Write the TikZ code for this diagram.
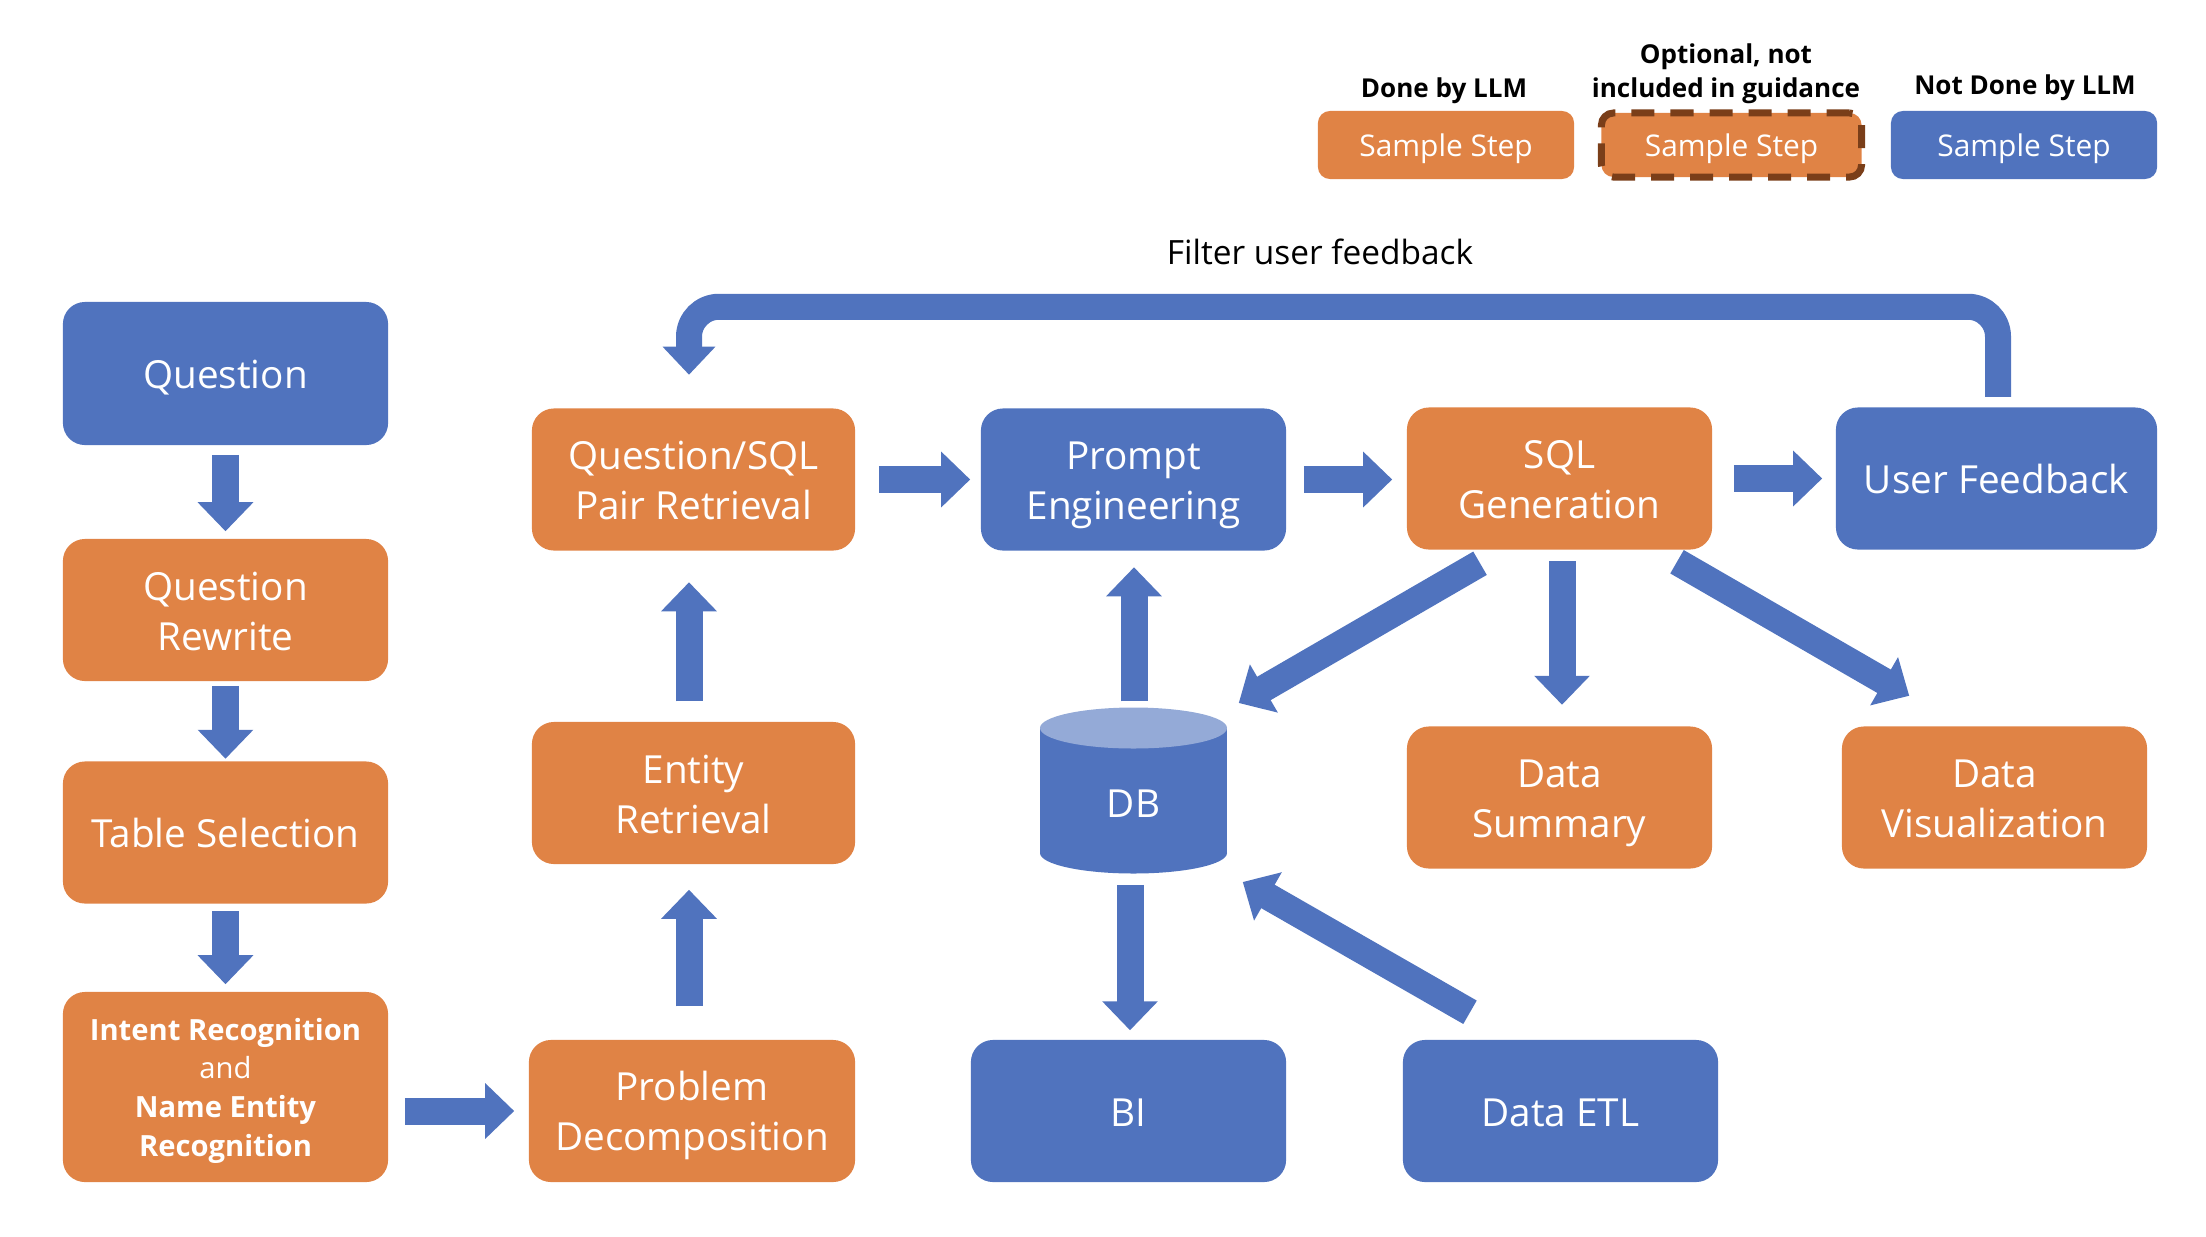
\documentclass[tikz,border=0pt]{standalone}
\usepackage{fontspec}
\setmainfont{Open Sans}
\usetikzlibrary{arrows.meta,calc}

\definecolor{org}{RGB}{224,131,69}
\definecolor{blu}{RGB}{80,115,190}
\definecolor{dbtop}{RGB}{148,170,215}
\definecolor{brn}{RGB}{122,62,25}

\newcommand{\mainfs}{\fontsize{11}{14.2}\selectfont}
\newcommand{\legfs}{\fontsize{8.5}{10.5}\selectfont}
\newcommand{\titlefs}{\fontsize{7.4}{9.7}\selectfont\bfseries}
\newcommand{\intentfs}{\fontsize{8.3}{11}\selectfont}
% invisible strut: lines are centred on their cap height, whatever their glyphs
\newcommand{\cs}{\rule[-0.22em]{0pt}{1.23em}}

\tikzset{
  stepbox/.style={rounded corners=0.22cm, inner sep=0pt, text=white, align=center,
    font=\mainfs, minimum height=1.42cm},
  llm/.style={stepbox, fill=org},
  tool/.style={stepbox, fill=blu},
  legbox/.style={rounded corners=0.12cm, inner sep=0pt, text=white, align=center,
    font=\legfs, minimum height=0.68cm},
  legtitle/.style={inner sep=0pt, align=center, font=\titlefs},
  blk/.style={draw=blu, line width=2.7mm, -{Triangle[width=5.4mm,length=2.9mm]}},
}

\begin{document}
\begin{tikzpicture}[x=0.01cm,y=-0.01cm]
\useasboundingbox (0,0) rectangle (2206,1236);

% legend
\node[legtitle] (t1) at (1444,91) {Done by LLM};
\node[legtitle] (t2) at (1726,74) {Optional, not\\included in guidance};
\node[legtitle] (t3) at (2025,88) {Not Done by LLM};
\node[legbox, fill=org, minimum width=2.56cm] (lg1) at (1446,145) {\cs Sample Step};
\node[legbox, fill=org, draw=brn, line width=0.7mm, dash pattern=on 2.3mm off 1.6mm,
      minimum width=2.6cm, minimum height=0.64cm] (lg2) at (1731.5,145) {\cs Sample Step};
\node[legbox, fill=blu, minimum width=2.66cm] (lg3) at (2024,145) {\cs Sample Step};

\node[inner sep=0pt, font=\fontsize{9.5}{11}\selectfont] (fb) at (1320,252) {Filter user feedback};

% left column
\node[tool, minimum width=3.25cm, minimum height=1.43cm] (q) at (225.5,373.5) {\cs Question};
\node[llm, minimum width=3.25cm] (qr) at (225.5,610) {\cs Question\\\cs Rewrite};
\node[llm, minimum width=3.25cm] (ts) at (225.5,832.5) {\cs Table Selection};
\node[llm, minimum width=3.25cm, minimum height=1.90cm, font=\intentfs] (ir) at (225.5,1087)
  {\cs\textbf{Intent Recognition}\\and\\\textbf{Name Entity}\\\cs\textbf{Recognition}};

% retrieval column
\node[llm, minimum width=3.26cm] (pd) at (692,1111) {\cs Problem\\\cs Decomposition};
\node[llm, minimum width=3.23cm] (er) at (693.5,793) {\cs Entity\\\cs Retrieval};
\node[llm, minimum width=3.23cm] (qs) at (693.5,479.5) {\cs Question/SQL\\\cs Pair Retrieval};

% generation row
\node[tool, minimum width=3.05cm] (pe) at (1133.5,479.5) {\cs Prompt\\\cs Engineering};
\node[llm, minimum width=3.05cm] (sql) at (1559.5,478.5) {\cs SQL\\\cs Generation};
\node[tool, minimum width=3.21cm] (uf) at (1996.5,478.5) {\cs User Feedback};

% outputs
\node[llm, minimum width=3.05cm] (ds) at (1559.5,797.5) {\cs Data\\\cs Summary};
\node[llm, minimum width=3.05cm] (dv) at (1994.5,797.5) {\cs Data\\\cs Visualization};
\node[tool, minimum width=3.15cm] (bi) at (1128.5,1111) {\cs BI};
\node[tool, minimum width=3.15cm] (etl) at (1560.5,1111) {\cs Data ETL};

% database cylinder
\fill[blu] (1040,728) rectangle (1227,853);
\fill[blu] (1133.5,853) ellipse [x radius=93.5, y radius=20.5];
\fill[dbtop] (1133.5,728) ellipse [x radius=93.5, y radius=20.5];
\node[minimum width=1.87cm, minimum height=1.66cm, inner sep=0pt] (db) at (1133.5,791) {};
\node[inner sep=0pt, text=white, font=\mainfs] (dbl) at (1133.5,804) {DB};

% pipeline arrows
\draw[blk] ($(q.south)+(0,9)$) -- ($(qr.north)+(0,-7)$);
\draw[blk] ($(qr.south)+(0,4)$) -- ($(ts.north)+(0,-2)$);
\draw[blk] ($(ts.south)+(0,7)$) -- ($(ir.north)+(0,-7)$);
\draw[blk] ($(ir.east|-pd.west)+(16,0)$) -- ($(pd.west)+(-14,0)$);
\draw[blk] ($(pd.north)+(-3,-33)$) -- ($(er.south)+(-4.5,25)$);
\draw[blk] ($(er.north)+(-4.5,-20)$) -- ($(qs.south)+(-4.5,31)$);
\draw[blk] ($(qs.east)+(23,0)$) -- ($(pe.west)+(-10,0)$);
\draw[blk] ($(pe.east)+(17,0)$) -- ($(sql.west)+(-14,1)$);
\draw[blk] ($(sql.east)+(21,0)$) -- ($(uf.west)+(-13,0)$);
\draw[blk] ($(db.north)+(0.5,-6)$) -- ($(pe.south)+(0.5,16)$);
\draw[blk] ($(sql.south)+(2.5,11)$) -- ($(ds.north)+(2.5,-21)$);
\draw[blk] ($(db.south)+(-3.5,10)$) -- ($(bi.north)+(1.5,-9)$);
\draw[blk] ($(sql.south)+(-79.5,13)$) -- ($(db.east)+(11,-88)$);
\draw[blk] ($(sql.south)+(117.5,11.5)$) -- ($(dv.north west)+(68,-30)$);
\draw[blk] ($(etl.north)+(-90.5,-27)$) -- ($(db.east)+(15,91)$);

% feedback loop
\draw[blk, line width=2.6mm, -{Triangle[width=5.1mm,length=2.8mm]}, rounded corners=0.3cm]
  ($(uf.north)+(1.5,-10)$) -- ++(0,-90) -| ($(qs.north)+(-4.5,-33)$);
\end{tikzpicture}
\end{document}
